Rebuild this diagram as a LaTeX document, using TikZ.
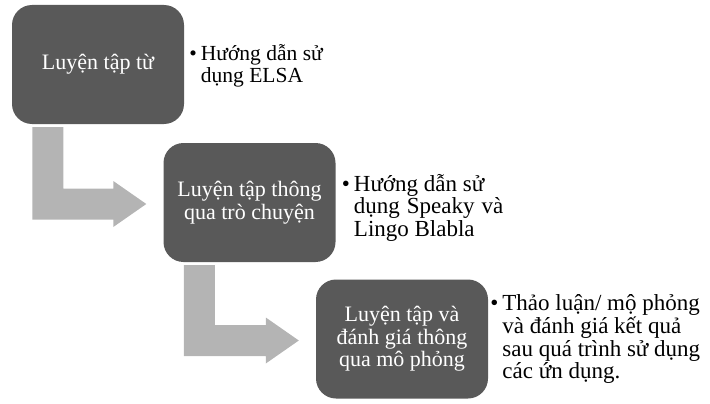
\documentclass[tikz,border=0pt]{standalone}
\usepackage{fontspec}
\setmainfont{Liberation Serif}
\usetikzlibrary{calc}
\definecolor{boxfill}{HTML}{595959}
\definecolor{arrowfill}{HTML}{B4B4B4}
\tikzset{
  stagebox/.style={fill=boxfill, rounded corners=20pt, minimum width=172pt,
    minimum height=119pt, inner sep=0pt, text=white, align=center,
    font=\fontsize{22}{22.5}\selectfont},
  notetext/.style={anchor=west, inner sep=0pt, text=black},
}
% elbow arrow from below node #1 to the left of node #2
\newcommand\elbowarrow[2]{%
  \fill[arrowfill] let \p1=(#1.south west), \p2=(#2.west) in
    ({\x1+20.5pt},{\y1-3pt}) -- ({\x1+51.5pt},{\y1-3pt})
    -- ({\x1+51.5pt},{\y2+14pt}) -- ({\x2-50pt},{\y2+14pt})
    -- ({\x2-50pt},{\y2+21.5pt}) -- ({\x2-17pt},{\y2-1.5pt})
    -- ({\x2-50pt},{\y2-24.5pt}) -- ({\x2-50pt},{\y2-17pt})
    -- ({\x1+20.5pt},{\y2-17pt}) -- cycle;}
\newcommand\bulletlines[1]{%
  \begin{tabular}{@{}l@{\hspace{4pt}}l@{}}#1\end{tabular}}
\begin{document}
\begin{tikzpicture}[x=1pt,y=-1pt]
  \useasboundingbox (0,0) rectangle (710,404);
  \node[stagebox] (b1) at (98,64.5) {Luyện tập từ};
  \node[stagebox] (b2) at (249.5,202.5) {Luyện tập thông\\qua trò chuyện};
  \node[stagebox] (b3) at (402,339) {Luyện tập và\\đánh giá thông\\qua mô phỏng};

  \elbowarrow{b1}{b2}
  \elbowarrow{b2}{b3}

  \node[notetext, font=\fontsize{21.5}{22}\selectfont] (n1) at ($(b1.east)+(5,2)$)
    {\bulletlines{\textbullet & Hướng dẫn sử\\ & dụng ELSA}};
  \node[notetext, font=\fontsize{23}{21.5}\selectfont] (n2) at ($(b2.east)+(6,6)$)
    {\bulletlines{\textbullet & Hướng dẫn sử\\ & {\spaceskip=7pt dụng Speaky và}\\ & Lingo Blabla}};
  \node[notetext, font=\fontsize{23}{21.3}\selectfont] (n3) at ($(b3.east)+(2,1)$)
    {\bulletlines{\textbullet & Thảo luận/ mộ phỏng\\ & và đánh giá kết quả\\ & sau quá trình sử dụng\\ & các ứn dụng.}};
\end{tikzpicture}
\end{document}
